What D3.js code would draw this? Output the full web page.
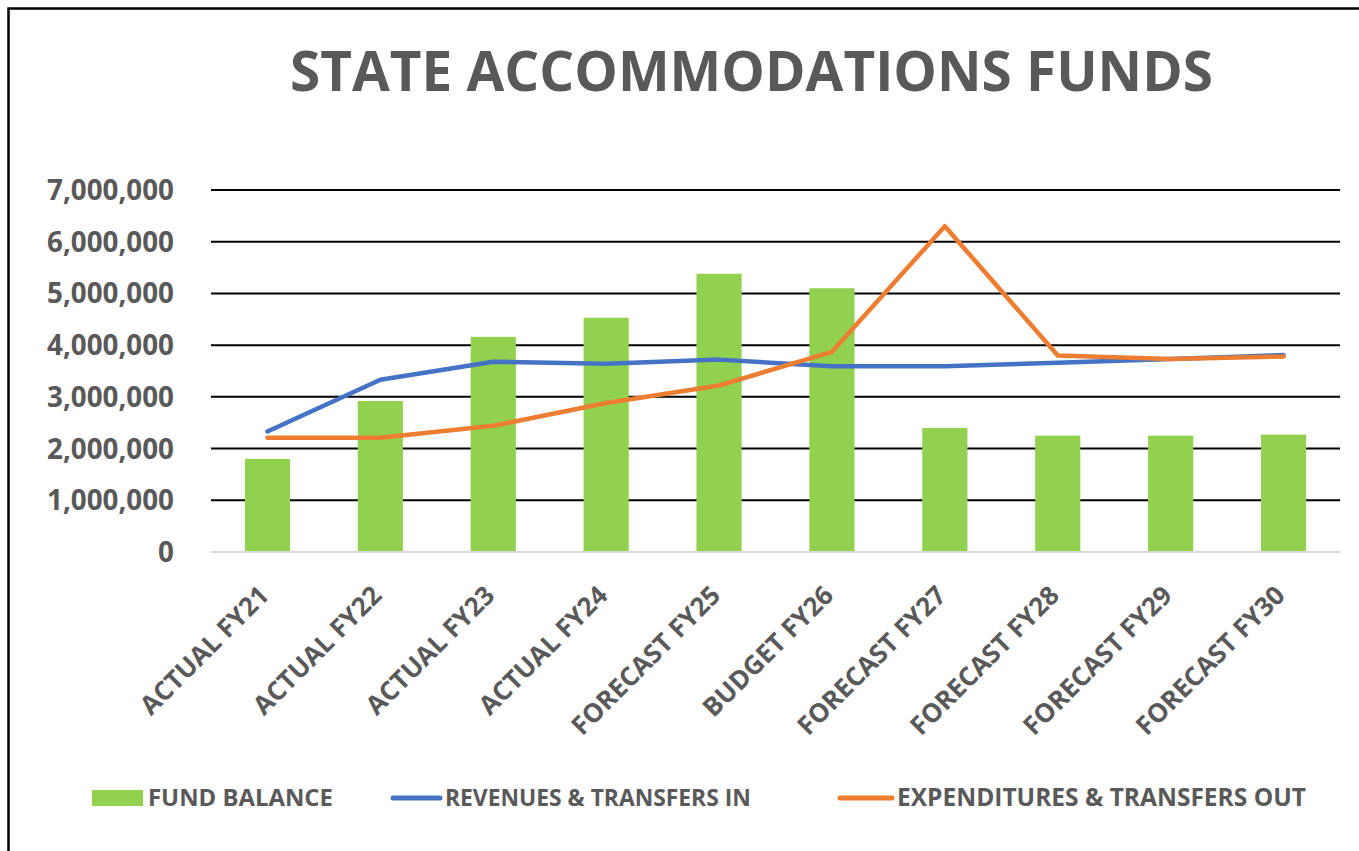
<!DOCTYPE html>
<html>
<head>
<meta charset="utf-8">
<script src="https://cdn.jsdelivr.net/npm/d3@7"></script>
<style>
  body { margin: 0; background: #fff; }
  svg text { font-family: "Open Sans", "Noto Sans", sans-serif; font-weight: bold; fill: #595959; }
</style>
</head>
<body>
<div id="canvas"></div>
<script>
var categories = ['ACTUAL FY21', 'ACTUAL FY22', 'ACTUAL FY23', 'ACTUAL FY24', 'FORECAST FY25',
                  'BUDGET FY26', 'FORECAST FY27', 'FORECAST FY28', 'FORECAST FY29', 'FORECAST FY30'];
var fundBalance = [1800000, 2920000, 4160000, 4530000, 5380000, 5100000, 2400000, 2250000, 2250000, 2270000];
var revenues = [2330000, 3330000, 3680000, 3640000, 3720000, 3590000, 3590000, 3660000, 3730000, 3810000];
var expenditures = [2210000, 2210000, 2440000, 2880000, 3220000, 3870000, 6300000, 3800000, 3730000, 3780000];
var yTicks = [0, 1000000, 2000000, 3000000, 4000000, 5000000, 6000000, 7000000];
var seriesNames = ['FUND BALANCE', 'REVENUES & TRANSFERS IN', 'EXPENDITURES & TRANSFERS OUT'];

var width = 1359, height = 851;
var colors = { bar: '#92D050', rev: '#4472C4', exp: '#ED7D31' };

// shrink or grow a text node so it spans the given width
var fit = function (sel, target) {
    var size = parseFloat(sel.attr('font-size'));
    var w = sel.node().getComputedTextLength();
    sel.attr('font-size', (size * target / w).toFixed(2));
};

var svg = d3.select('#canvas').append('svg')
    .attr('width', width)
    .attr('height', height);

// chart frame (only left and top edges show in the crop)
svg.append('path')
    .attr('d', 'M 8.5 851 L 8.5 8.5 L 1359 8.5')
    .attr('fill', 'none')
    .attr('stroke', '#000')
    .attr('stroke-width', 2.5);

var title = svg.append('text')
    .attr('x', 751.5)
    .attr('y', 91)
    .attr('text-anchor', 'middle')
    .attr('font-size', 56)
    .text('STATE ACCOMMODATIONS FUNDS');
fit(title, 923);

var x = d3.scaleBand().domain(categories).range([211, 1340]).paddingInner(0.6).paddingOuter(0.3);
var y = d3.scaleLinear().domain([0, 7000000]).range([552, 190]);

// gridlines
svg.append('g')
    .selectAll('line')
    .data(yTicks.slice(1))
    .join('line')
    .attr('x1', 211).attr('x2', 1340)
    .attr('y1', function (d) { return y(d); })
    .attr('y2', function (d) { return y(d); })
    .attr('stroke', '#000')
    .attr('stroke-width', 2);

// y labels
var yLab = svg.append('g')
    .selectAll('text')
    .data(yTicks)
    .join('text')
    .attr('x', 174)
    .attr('y', function (d) { return y(d); })
    .attr('dy', '0.36em')
    .attr('text-anchor', 'end')
    .attr('font-size', 25)
    .text(function (d) { return d3.format(',')(d); });
fit(d3.select(yLab.nodes()[7]), 127);
yLab.attr('font-size', d3.select(yLab.nodes()[7]).attr('font-size'));

// bars
svg.append('g')
    .selectAll('rect')
    .data(fundBalance)
    .join('rect')
    .attr('x', function (d, i) { return x(categories[i]); })
    .attr('width', x.bandwidth())
    .attr('y', function (d) { return y(d); })
    .attr('height', function (d) { return y(0) - y(d); })
    .attr('fill', colors.bar);

// zero line
svg.append('line')
    .attr('x1', 211).attr('x2', 1340)
    .attr('y1', y(0)).attr('y2', y(0))
    .attr('stroke', '#d9d9d9')
    .attr('stroke-width', 2);

var line = d3.line()
    .x(function (d, i) { return x(categories[i]) + x.bandwidth() / 2; })
    .y(function (d) { return y(d); });

[[revenues, colors.rev], [expenditures, colors.exp]].forEach(function (s) {
    svg.append('path')
        .attr('d', line(s[0]))
        .attr('fill', 'none')
        .attr('stroke', s[1])
        .attr('stroke-width', 4.5)
        .attr('stroke-linejoin', 'round')
        .attr('stroke-linecap', 'round');
});

// category labels, rotated
svg.append('g')
    .selectAll('text')
    .data(categories)
    .join('text')
    .attr('text-anchor', 'end')
    .attr('font-size', 26)
    .attr('transform', function (d) {
        var cx = x(d) + x.bandwidth() / 2;
        return 'translate(' + (cx + 3) + ',' + 597 + ') rotate(-45)';
    })
    .text(function (d) { return d; });

// legend
var lg = svg.append('g');
lg.append('rect').attr('x', 92).attr('y', 790).attr('width', 51).attr('height', 16).attr('fill', colors.bar);
lg.append('line').attr('x1', 393).attr('x2', 440).attr('y1', 798).attr('y2', 798)
    .attr('stroke', colors.rev).attr('stroke-width', 5).attr('stroke-linecap', 'round');
lg.append('line').attr('x1', 840).attr('x2', 892).attr('y1', 798).attr('y2', 798)
    .attr('stroke', colors.exp).attr('stroke-width', 5).attr('stroke-linecap', 'round');
var legX = [148, 445, 897], legW = [185, 306, 409];
seriesNames.forEach(function (n, i) {
    var t = lg.append('text')
        .attr('x', legX[i])
        .attr('y', 806)
        .attr('font-size', 22)
        .text(n);
    fit(t, legW[i]);
});
</script>
</body>
</html>
